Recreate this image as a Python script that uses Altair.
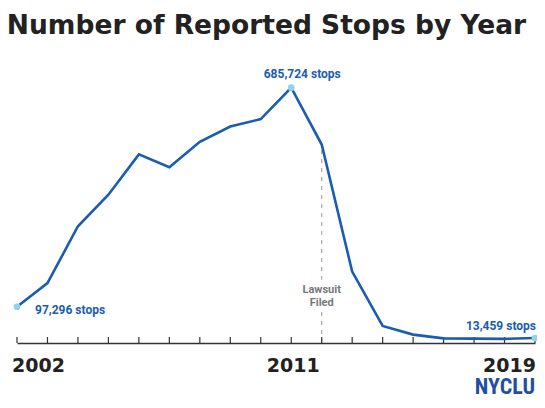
import altair as alt
import pandas as pd

# ---- data ----
years = list(range(2002, 2020))
stops = [97296, 160851, 313523, 398191, 506491, 472096, 540302, 581168, 601285,
         685724, 532911, 191851, 45787, 22565, 12404, 11629, 11008, 13459]
label_years = [2002, 2011, 2019]
label_texts = ["97,296 stops", "685,724 stops", "13,459 stops"]
axis_label_years = [2002, 2011, 2019]
axis_label_texts = ["2002", "2011", "2019"]
lawsuit_year = [2012]
lawsuit_text = ["Lawsuit\nFiled"]
lawsuit_text_level = [134000]
lawsuit_dash_top = [518000, 83000]
lawsuit_dash_bottom = [170000, 0]
tick_low = 0
tick_high = 16000
title_text = "Number of Reported Stops by Year"
logo_text = "NYCLU"

BLUE = "#1a5cb0"
LIGHT = "#8fd3ea"
DARK = "#222222"

df = pd.DataFrame({"year": years, "stops": stops})
hi = df[df["year"].isin(label_years)].reset_index(drop=True)
hi["label"] = label_texts
tick_df = pd.DataFrame({"year": years, "lo": [tick_low] * len(years), "hi": [tick_high] * len(years)})
axlab_df = pd.DataFrame({"year": axis_label_years, "label": axis_label_texts})
law_df = pd.DataFrame({"year": lawsuit_year, "label": lawsuit_text, "lvl": lawsuit_text_level})
dash_df = pd.DataFrame({"year": lawsuit_year * 2, "top": lawsuit_dash_top,
                        "bottom": lawsuit_dash_bottom})

x_scale = alt.Scale(domain=[2002, 2019], nice=False, zero=False)
x_enc = alt.X("year:Q", title=None, scale=x_scale,
              axis=alt.Axis(labels=False, ticks=False, grid=False,
                            domainColor="#333333", domainWidth=1.6))
y_scale = alt.Scale(domain=[0, 760000], nice=False, zero=True)


def yq(field):
    return alt.Y(field, type="quantitative", scale=y_scale, axis=None)


line = alt.Chart(df).mark_line(color=BLUE, strokeWidth=2.6).encode(x=x_enc, y=yq("stops"))

ticks = alt.Chart(tick_df).mark_rule(color="#333333", strokeWidth=1.2).encode(
    x=x_enc, y=yq("lo"), y2="hi")

dash = alt.Chart(dash_df).mark_rule(color="#aaaaaa", strokeWidth=1.2, strokeDash=[4, 5]).encode(
    x=x_enc, y=yq("top"), y2="bottom")

law_txt = alt.Chart(law_df).mark_text(
    font="Roboto", fontWeight="bold", fontSize=11, color="#777777",
    align="center", baseline="alphabetic", lineBreak="\n", lineHeight=13
).encode(x=x_enc, y=yq("lvl"), text="label:N")

pts = alt.Chart(hi).mark_point(filled=True, color=LIGHT, size=45, opacity=1).encode(
    x=x_enc, y=yq("stops"))

txt_style = dict(font="Roboto", fontWeight="bold", fontSize=12, color=BLUE, baseline="alphabetic")
lab1 = alt.Chart(hi[hi["year"] == 2002]).mark_text(align="left", dx=18, dy=7, **txt_style).encode(
    x=x_enc, y=yq("stops"), text="label:N")
lab2 = alt.Chart(hi[hi["year"] == 2011]).mark_text(align="center", dx=11, dy=-10, **txt_style).encode(
    x=x_enc, y=yq("stops"), text="label:N")
lab3 = alt.Chart(hi[hi["year"] == 2019]).mark_text(align="right", dx=1, dy=-8, **txt_style).encode(
    x=x_enc, y=yq("stops"), text="label:N")

ax_style = dict(font="DejaVu Sans", fontWeight="bold", fontSize=19, color=DARK, baseline="alphabetic")
ax1 = alt.Chart(axlab_df[axlab_df["year"] == 2002]).mark_text(align="left", dx=-5, **ax_style).encode(
    x=x_enc, y=alt.value(312), text="label:N")
ax2 = alt.Chart(axlab_df[axlab_df["year"] == 2011]).mark_text(align="center", dx=2, **ax_style).encode(
    x=x_enc, y=alt.value(312), text="label:N")
ax3 = alt.Chart(axlab_df[axlab_df["year"] == 2019]).mark_text(align="right", dx=1, **ax_style).encode(
    x=x_enc, y=alt.value(312), text="label:N")

logo = alt.Chart(pd.DataFrame({"t": [logo_text]})).mark_text(
    font="Liberation Sans Narrow, Roboto Condensed, Roboto", fontWeight="bold", fontSize=22,
    color="#1f4f9f", align="right", baseline="alphabetic"
).encode(x=alt.value(518), y=alt.value(334), text="t:N")

chart = alt.layer(dash, law_txt, ticks, line, pts, lab1, lab2, lab3, ax1, ax2, ax3, logo).properties(
    width=518, height=283,
    padding={"left": 9, "top": 52, "right": 2, "bottom": 57},
    autosize=alt.AutoSizeParams(type="none"),
    background="white",
    title=alt.TitleParams(title_text, anchor="start", font="DejaVu Sans", fontSize=26.5,
                          fontWeight="bold", color=DARK, dx=-5, offset=21),
).configure_view(strokeWidth=0)

chart.save("out.html", embed_options={"renderer": "svg", "actions": False})
